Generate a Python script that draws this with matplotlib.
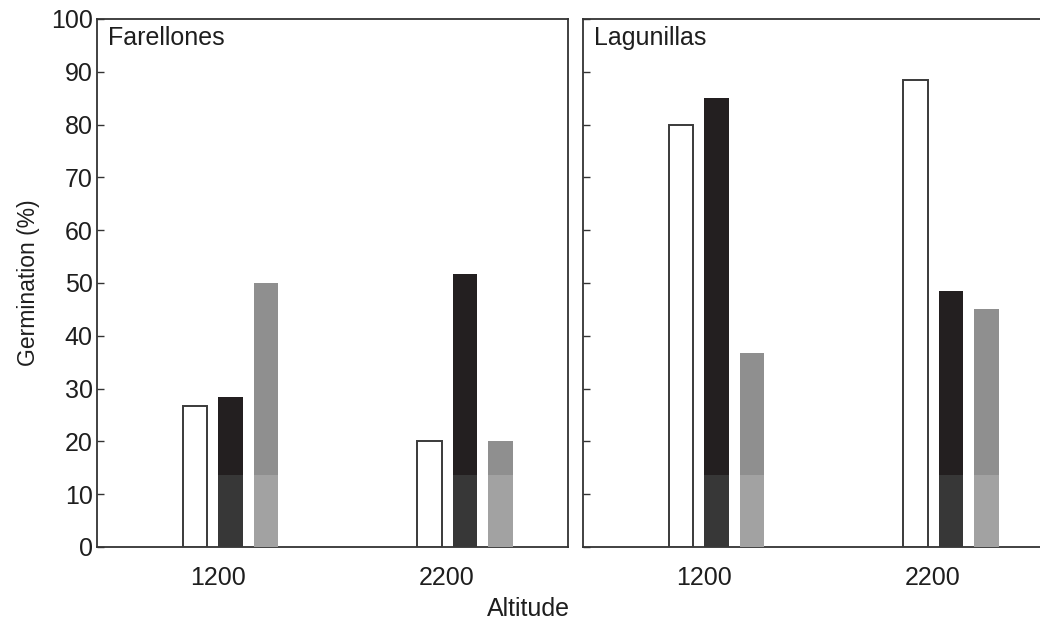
"""Germination by altitude at two sites (Farellones, Lagunillas)"""
import numpy as np
import matplotlib.pyplot as plt

plt.rcParams['font.family'] = ['Liberation Sans', 'DejaVu Sans']

# data
sites = ['Farellones', 'Lagunillas']
altitudes = ['1200', '2200']
white_vals = {'Farellones': [26.7, 20.0], 'Lagunillas': [80.0, 88.5]}
black_vals = {'Farellones': [28.5, 51.7], 'Lagunillas': [85.0, 48.5]}
gray_vals = {'Farellones': [50.0, 20.0], 'Lagunillas': [36.7, 45.0]}

# looks
txt_col = '#1e1e1e'
edge_col = '#3a3a3a'
black_top, black_low = '#231f20', '#373737'
gray_top, gray_low = '#8f8f8f', '#a2a2a2'
band = 13.6          # lighter strip at the base of the filled bars (as in the scan)
bar_w = 0.21
offset = 0.303
group_x = np.array([1.0, 3.0])
label_x = group_x - np.array([0.107, 0.16])
fs = 18

W, H = 1040, 623
fig = plt.figure(figsize=(W / 100, H / 100), dpi=100)
left_px = [97, 583]
panel_w = 471
y_top, y_bot = 19, 547

axes = []
for i, site in enumerate(sites):
    ax = fig.add_axes([left_px[i] / W, (H - y_bot) / H,
                       panel_w / W, (y_bot - y_top) / H])
    axes.append(ax)

    # white bars
    ax.bar(group_x - offset, white_vals[site], bar_w, color='white',
           edgecolor=edge_col, linewidth=1.4, zorder=3)
    # black bars, with lighter base strip
    bv = np.array(black_vals[site])
    ax.bar(group_x, bv, bar_w, color=black_top, linewidth=0, zorder=3)
    ax.bar(group_x, np.minimum(bv, band), bar_w, color=black_low, linewidth=0, zorder=4)
    # gray bars
    gv = np.array(gray_vals[site])
    ax.bar(group_x + offset, gv, bar_w, color=gray_top, linewidth=0, zorder=3)
    ax.bar(group_x + offset, np.minimum(gv, band), bar_w, color=gray_low, linewidth=0, zorder=4)

    ax.set_xlim(-0.139, 3.878)
    ax.set_ylim(0, 100)
    ax.set_yticks(np.arange(0, 101, 10))
    ax.set_xticks(label_x)
    ax.set_xticklabels(altitudes, fontsize=fs, color=txt_col)
    ax.tick_params(axis='x', length=0, pad=14)
    ax.tick_params(axis='y', direction='in', length=5, width=1, color='#333333',
                   labelsize=fs, labelcolor=txt_col, pad=3)
    for sp in ax.spines.values():
        sp.set_color('#333333')
        sp.set_linewidth(1.3)
    ax.text(0.023, 0.986, site, transform=ax.transAxes, fontsize=fs,
            ha='left', va='top', color=txt_col)
    if i == 1:
        ax.tick_params(axis='y', labelleft=False)

axes[0].set_ylabel('Germination (%)', fontsize=16.5, color=txt_col, labelpad=8)
fig.text(528 / W, 1 - 609 / H, 'Altitude', fontsize=fs, ha='center', va='center',
         color=txt_col)

plt.savefig('out.png', dpi=100)
plt.close()
